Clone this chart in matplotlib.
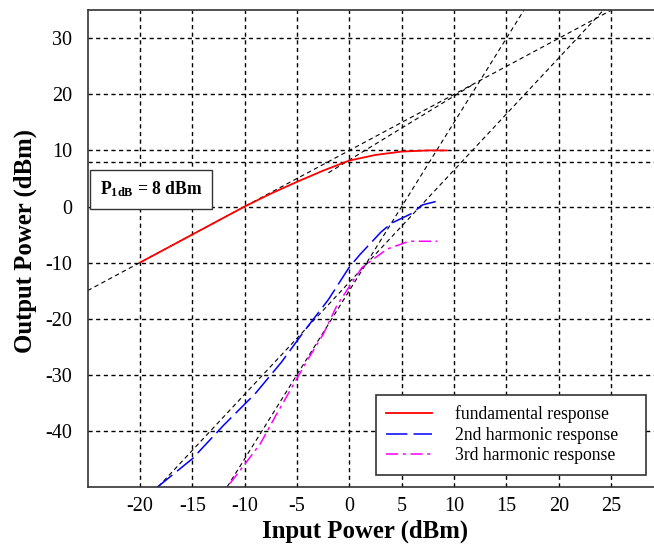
import matplotlib
matplotlib.use('Agg')
import matplotlib.pyplot as plt
import numpy as np

# measured responses (dBm)
fund_x = [-20, -15, -10, -7.5, -5, -2.5, 0, 2.5, 5, 7.5, 9.3]
fund_y = [-10, -5, 0, 2.3, 4.4, 6.4, 8.2, 9.2, 9.8, 10, 10]

h2_x = [-18.5, -15, -12, -9, -6.5, -4.3, -2, 0, 1, 3, 4, 6, 7, 8.5]
h2_y = [-50.3, -45, -39, -33.4, -27.8, -22.2, -16.6, -10.8, -8.6, -4.6, -3, -1.2, 0.3, 1.0]

h3_x = [-11.4, -10, -8.5, -7, -5.5, -4, -2.5, -1.2, 0, 1.2, 2.5, 3.6, 4.8, 5.7, 8.4]
h3_y = [-49.4, -46, -42.3, -37.2, -32.3, -27.4, -22.8, -17.7, -14.3, -10.9, -9.1, -7.6, -6.8, -6.2, -6.2]

# extrapolation lines: (slope, intercept, x start, x end)
asymptotes = [(1, 10, -25, 25),
              (2, -13.5, -18.25, 24.25),
              (3, -15, -11.67, 16.67),
              (1.14, 8.3, -2, 12)]
p1db = 8

xticks = [-20, -15, -10, -5, 0, 5, 10, 15, 20, 25]
yticks = [-40, -30, -20, -10, 0, 10, 20, 30]

plt.rcParams['font.family'] = 'Liberation Serif'
plt.rcParams['axes.unicode_minus'] = False
plt.rcParams['mathtext.fontset'] = 'custom'
plt.rcParams['mathtext.rm'] = 'Liberation Serif'
plt.rcParams['mathtext.bf'] = 'Liberation Serif:bold'

fig = plt.figure(figsize=(6.54, 5.48), dpi=100)
ax = fig.add_axes([0.134, 0.1117, 0.866, 0.8695])
ax.set_xlim(-25, 29.1)
ax.set_ylim(-50, 35)

# grid
ax.set_xticks(xticks)
ax.set_yticks(yticks)
ax.grid(True, color='black', linestyle=(0, (3, 2.5)), linewidth=1.0)
ax.axhline(p1db, color='black', linestyle=(0, (3, 2.5)), linewidth=1.0)
ax.tick_params(length=0, labelsize=14.5)
ax.tick_params(axis='y', pad=11)
ax.tick_params(axis='x', pad=7)
for s in ['left', 'top', 'bottom']:
    ax.spines[s].set_color('#333333')
    ax.spines[s].set_linewidth(1.2)
ax.spines['right'].set_visible(False)

# extrapolation lines
for m, b, x0, x1 in asymptotes:
    xs = np.array([x0, x1])
    ax.plot(xs, m * xs + b, color='black', linestyle=(0, (4, 3)), linewidth=0.8)

ax.plot(fund_x, fund_y, color='#ff0000', linewidth=1.3, label='fundamental response')
ax.plot(h2_x, h2_y, color='#0000ff', linewidth=1.1, linestyle=(0, (14, 4)),
        label='2nd harmonic response    ')
ax.plot(h3_x, h3_y, color='#ff00ff', linewidth=1.1, linestyle=(0, (8, 3, 2, 3)),
        label='3rd harmonic response')

ax.text(-18.9, 3.1, r'$\mathbf{P_{1dB}}$ = 8 dBm', fontsize=12.7, fontweight='bold',
        ha='center', va='center',
        bbox=dict(boxstyle='square,pad=0.55', facecolor='white', edgecolor='#333333', linewidth=1.0))

leg = ax.legend(loc='lower left', bbox_to_anchor=(0.509, 0.025), borderaxespad=0,
                fontsize=12.7, fancybox=False, framealpha=1, edgecolor='#333333',
                handlelength=2.6, handletextpad=1.3, labelspacing=0.2, borderpad=0.6)
leg.get_frame().set_linewidth(1.2)

ax.set_xlabel('Input Power (dBm)', fontsize=17.8, fontweight='bold')
ax.set_ylabel('Output Power (dBm)', fontsize=17.8, fontweight='bold')
ax.xaxis.set_label_coords(0.49, -0.068)
ax.yaxis.set_label_coords(-0.09, 0.515)

fig.savefig('out.png', dpi=100)
